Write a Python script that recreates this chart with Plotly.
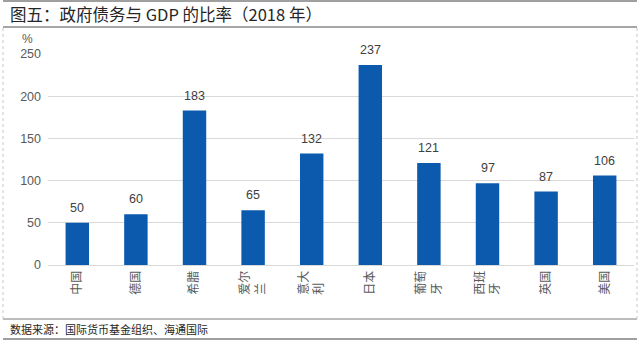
import plotly.graph_objects as go

categories = ["中国", "德国", "希腊", "爱尔<br>兰\u3000", "意大<br>利\u3000", "日本",
              "葡萄<br>牙\u3000", "西班<br>牙\u3000", "英国", "美国"]
values = [50, 60, 183, 65, 132, 237, 121, 97, 87, 106]
y_ticks = [0, 50, 100, 150, 200, 250]

title_text = "图五：政府债务与 GDP 的比率（2018 年）"
source_text = "数据来源：国际货币基金组织、海通国际"
unit_text = "%"

FONT = "Liberation Sans, Arial, Noto Sans CJK SC, sans-serif"
CJK = "Noto Sans CJK SC, sans-serif"

W, H = 640, 341
l, r, t, b = 48, 6, 54, 76
pw, ph = W - l - r, H - t - b

def px_x(px):
    return (px - l) / pw

def px_y(py):
    return 1 - (py - t) / ph

fig = go.Figure()
fig.add_trace(go.Bar(
    x=categories, y=values,
    marker=dict(color="#0B5AAE", line=dict(width=0)),
    hoverinfo="x+y",
))

annotations = [
    dict(text=title_text, x=px_x(8), y=px_y(14), xref="paper", yref="paper",
         showarrow=False, xanchor="left", yanchor="middle",
         font=dict(family=CJK, size=16.5, color="#262626")),
    dict(text=unit_text, x=px_x(27), y=px_y(39), xref="paper", yref="paper",
         showarrow=False, xanchor="center", yanchor="middle",
         font=dict(family=FONT, size=12, color="#595959")),
    dict(text=source_text, x=px_x(8), y=px_y(329), xref="paper", yref="paper",
         showarrow=False, xanchor="left", yanchor="middle",
         font=dict(family=CJK, size=11, color="#262626")),
]
for c, v in zip(categories, values):
    annotations.append(dict(
        text=str(v), x=c, y=v, xref="x", yref="y",
        showarrow=False, xanchor="center", yanchor="bottom", yshift=6,
        font=dict(family=FONT, size=12.5, color="#404040"),
    ))

fig.update_layout(
    width=W, height=H,
    margin=dict(l=l, r=r, t=t, b=b),
    paper_bgcolor="white", plot_bgcolor="white",
    showlegend=False,
    bargap=0.6,
    font=dict(family=FONT, color="#595959"),
    xaxis=dict(
        tickangle=-90,
        tickfont=dict(family=CJK, size=12, color="#595959"),
        showline=True, linecolor="#D9D9D9", linewidth=1,
        ticks="", showgrid=False,
    ),
    yaxis=dict(
        range=[0, 250], tickvals=y_ticks,
        tickfont=dict(family=FONT, size=12.5, color="#595959"),
        showgrid=True, gridcolor="#D9D9D9", gridwidth=1,
        zeroline=False, ticks="", showline=False,
        ticklabelstandoff=6,
    ),
    annotations=annotations,
)

def hline(py, color, width, dash="solid"):
    fig.add_shape(type="line", xref="paper", yref="paper",
                  x0=px_x(3), x1=px_x(637), y0=px_y(py), y1=px_y(py),
                  line=dict(color=color, width=width, dash=dash))

def vline(px, color, width, dash="dot"):
    fig.add_shape(type="line", xref="paper", yref="paper",
                  x0=px_x(px), x1=px_x(px), y0=px_y(28), y1=px_y(319),
                  line=dict(color=color, width=width, dash=dash))

hline(1, "#7F7F7F", 1.5)
hline(27, "#A6A6A6", 2)
hline(319, "#A6A6A6", 1.5)
hline(339, "#7F7F7F", 1.5)
vline(3, "#C8C8C8", 1)
vline(637, "#C8C8C8", 1)

fig.write_html("out.html")
